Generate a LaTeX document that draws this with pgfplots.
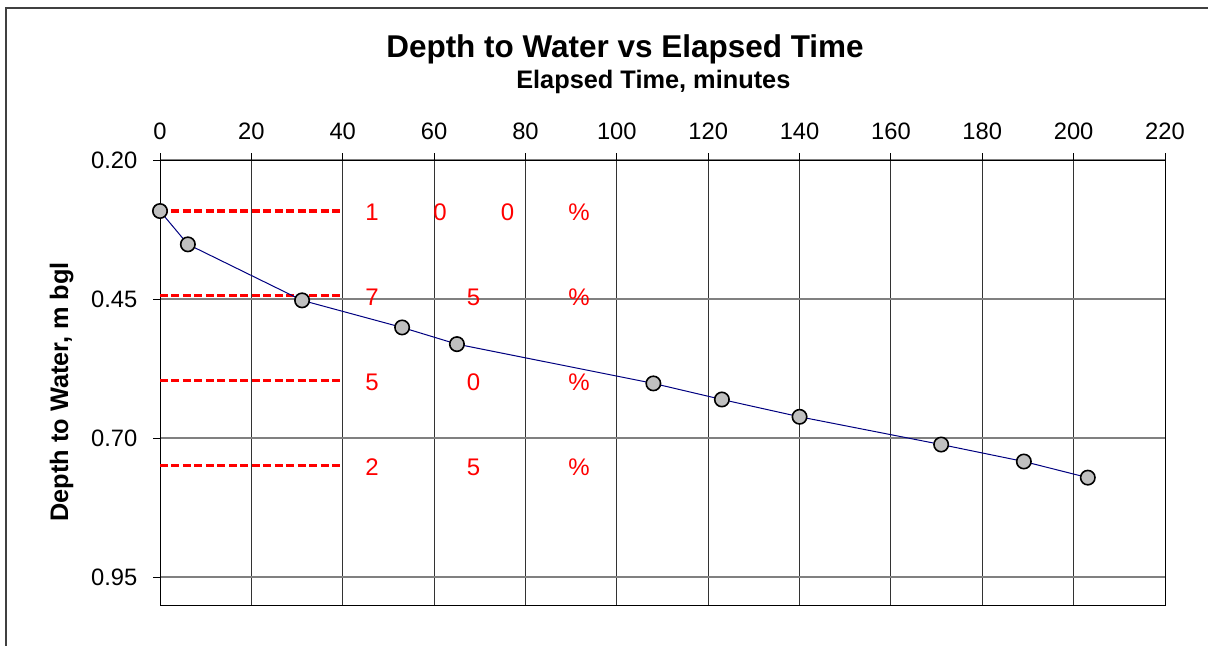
\documentclass[border=0pt]{standalone}
\usepackage{pgfplots}
\pgfplotsset{compat=1.18}
\usepackage{fontspec}
\setmainfont{Liberation Sans}
\definecolor{markgray}{RGB}{192,192,192}
\definecolor{gridgray}{RGB}{128,128,128}
\definecolor{navyline}{RGB}{0,0,128}
\begin{document}
\begin{tikzpicture}
\path[use as bounding box] (0,0) rectangle (906pt,-484.5pt);
\draw[line width=1pt, black!75] (4.5pt,-484.5pt) -- (4.5pt,-6pt) -- (906pt,-6pt);
\begin{axis}[
  at={(120pt,-453.75pt)}, anchor=south west,
  width=753.75pt, height=333.75pt, scale only axis,
  xmin=0, xmax=220, ymin=0.2, ymax=1.0,
  y dir=reverse,
  xtick={0,20,...,220},
  ytick={0.20,0.45,0.70,0.95},
  xtick pos=upper, xticklabel pos=upper,
  ytick pos=left,
  tick align=outside,
  major tick length=5.25pt,
  tick style={black, line width=0.75pt},
  axis line style={black, line width=0.75pt},
  xmajorgrids, ymajorgrids,
  x grid style={black!80, line width=0.75pt},
  y grid style={gridgray, line width=1.1pt},
  ticklabel style={font=\fontsize{17.8}{20}\selectfont},
  /pgf/number format/assume math mode=true,
  yticklabel style={xshift=-8.25pt, /pgf/number format/.cd, fixed, fixed zerofill, precision=2},
  xticklabel style={yshift=6.75pt, /pgf/number format/.cd, fixed, precision=0},
  clip=false,
]
\addplot[red, line width=2.3pt, dash pattern=on 6pt off 2.6pt] coordinates {(0,0.2917) (40,0.2917)};
\addplot[red, line width=2.3pt, dash pattern=on 6pt off 2.6pt] coordinates {(0,0.4440) (40,0.4440)};
\addplot[red, line width=2.3pt, dash pattern=on 6pt off 2.6pt] coordinates {(0,0.5965) (40,0.5965)};
\addplot[red, line width=2.3pt, dash pattern=on 6pt off 2.6pt] coordinates {(0,0.7494) (40,0.7494)};
\addplot[navyline, line width=0.75pt, mark=*, mark size=5.4pt,
  mark options={fill=markgray, draw=black, line width=1.2pt}]
  coordinates {
  (0,0.2917) (6.1,0.3516) (31.1,0.4523) (53.0,0.501) (65.0,0.531)
  (108.0,0.6016) (123.0,0.6305) (140.0,0.6616) (171.0,0.7115)
  (189.1,0.742) (203.1,0.771)
  };
\begin{scope}[every node/.style={red, anchor=base, font=\fontsize{18}{20}\selectfont, yshift=-7.3pt}]
\node at (axis cs:46.41,0.292) {1};
\node at (axis cs:61.30,0.292) {0};
\node at (axis cs:76.07,0.292) {0};
\node at (axis cs:91.73,0.292) {\%};
\node at (axis cs:46.41,0.4446) {7};
\node at (axis cs:68.63,0.4446) {5};
\node at (axis cs:91.73,0.4446) {\%};
\node at (axis cs:46.41,0.597) {5};
\node at (axis cs:68.63,0.597) {0};
\node at (axis cs:91.73,0.597) {\%};
\node at (axis cs:46.41,0.7494) {2};
\node at (axis cs:68.63,0.7494) {5};
\node at (axis cs:91.73,0.7494) {\%};
\end{scope}
\end{axis}
\node[anchor=base, font=\fontsize{23.6}{27}\selectfont\bfseries] at (468.75pt,-42.75pt) {Depth to Water vs Elapsed Time};
\node[anchor=base, font=\fontsize{19}{22}\selectfont\bfseries] at (490pt,-66.2pt) {Elapsed Time, minutes};
\node[anchor=base, font=\fontsize{19}{22}\selectfont\bfseries, rotate=90] at (51pt,-294pt) {Depth to Water, m bgl};
\end{tikzpicture}
\end{document}
